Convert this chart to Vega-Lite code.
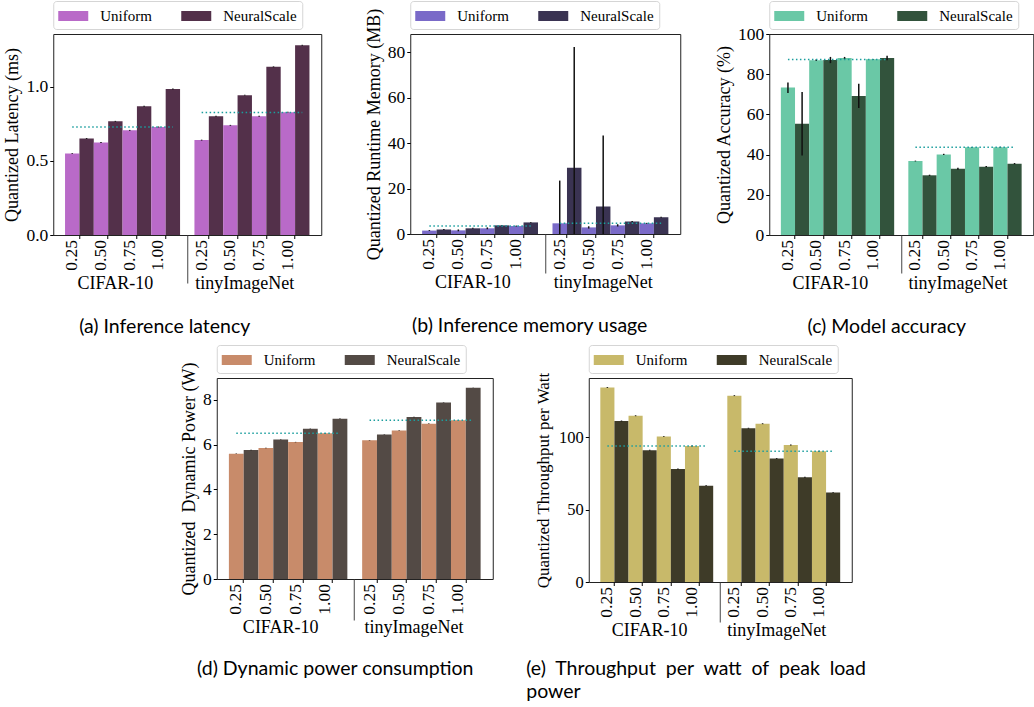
{
"$schema": "https://vega.github.io/schema/vega-lite/v6.json",
"padding": {"left": 3, "top": 0, "right": 0, "bottom": 0},
"background": "white",
"config": {
  "view": {"stroke": "#222", "strokeWidth": 1},
  "font": "Liberation Serif",
  "axis": {"labelFont": "Liberation Serif", "titleFont": "Liberation Serif", "labelColor": "#000", "titleColor": "#000", "titleFontWeight": "normal", "labelFontSize": 17.5, "titleFontSize": 18, "tickColor": "#000", "tickSize": 3.5, "tickWidth": 1, "grid": false, "domain": false, "labelOverlap": false, "labelPadding": 2},
  "axisX": {"orient": "bottom"},
  "axisY": {"labelOverlap": false, "labelSeparation": 0},
  "legend": {"orient": "top", "direction": "horizontal", "title": null, "labelFont": "Liberation Serif", "labelFontSize": 15, "labelColor": "#000", "symbolType": "M-1.5,-0.5H1.5V0.5H-1.5Z", "symbolSize": 400, "symbolStrokeWidth": 0, "symbolOpacity": 1, "symbolOffset": 5, "labelOffset": 17, "columnPadding": 29, "padding": 5, "strokeColor": "#d5d5d5", "fillColor": "#ffffff", "cornerRadius": 3, "offset": 5}
},
"resolve": {"scale": {"x": "independent", "y": "independent", "color": "independent"}, "axis": {"x": "independent", "y": "independent"}, "legend": {"color": "independent"}},
"center": true,
"spacing": 8,
"vconcat": [
{
"spacing": 89,
"bounds": "flush",
"resolve": {"scale": {"x": "independent", "y": "independent", "color": "independent"}, "axis": {"x": "independent", "y": "independent"}, "legend": {"color": "independent"}},
"hconcat": [
{
  "width": 268, "height": 201,
  "data": {"values": [
    {"dataset": "CIFAR-10", "width": "0.25", "method": "Uniform", "value": 0.550, "lo": 0.547, "hi": 0.553},
    {"dataset": "CIFAR-10", "width": "0.25", "method": "NeuralScale", "value": 0.652, "lo": 0.649, "hi": 0.655},
    {"dataset": "CIFAR-10", "width": "0.50", "method": "Uniform", "value": 0.625, "lo": 0.622, "hi": 0.628},
    {"dataset": "CIFAR-10", "width": "0.50", "method": "NeuralScale", "value": 0.768, "lo": 0.765, "hi": 0.771},
    {"dataset": "CIFAR-10", "width": "0.75", "method": "Uniform", "value": 0.707, "lo": 0.704, "hi": 0.710},
    {"dataset": "CIFAR-10", "width": "0.75", "method": "NeuralScale", "value": 0.870, "lo": 0.867, "hi": 0.873},
    {"dataset": "CIFAR-10", "width": "1.00", "method": "Uniform", "value": 0.730, "lo": 0.727, "hi": 0.733},
    {"dataset": "CIFAR-10", "width": "1.00", "method": "NeuralScale", "value": 0.986, "lo": 0.983, "hi": 0.989},
    {"dataset": "tinyImageNet", "width": "0.25", "method": "Uniform", "value": 0.641, "lo": 0.638, "hi": 0.644},
    {"dataset": "tinyImageNet", "width": "0.25", "method": "NeuralScale", "value": 0.802, "lo": 0.799, "hi": 0.805},
    {"dataset": "tinyImageNet", "width": "0.50", "method": "Uniform", "value": 0.741, "lo": 0.738, "hi": 0.744},
    {"dataset": "tinyImageNet", "width": "0.50", "method": "NeuralScale", "value": 0.945, "lo": 0.942, "hi": 0.948},
    {"dataset": "tinyImageNet", "width": "0.75", "method": "Uniform", "value": 0.802, "lo": 0.799, "hi": 0.805},
    {"dataset": "tinyImageNet", "width": "0.75", "method": "NeuralScale", "value": 1.136, "lo": 1.133, "hi": 1.139},
    {"dataset": "tinyImageNet", "width": "1.00", "method": "Uniform", "value": 0.830, "lo": 0.827, "hi": 0.833},
    {"dataset": "tinyImageNet", "width": "1.00", "method": "NeuralScale", "value": 1.282, "lo": 1.279, "hi": 1.285}
  ]},
  "transform": [{"calculate": "datum.dataset + ' ' + datum.width + ' ' + datum.method", "as": "key"}],
  "resolve": {"axis": {"x": "independent"}},
  "layer": [
    {"mark": {"type": "bar"},
     "encoding": {
       "x": {"field": "key", "type": "nominal", "sort": null, "scale": {"domain": ["CIFAR-10 0.25 Uniform", "CIFAR-10 0.25 NeuralScale", "CIFAR-10 0.50 Uniform", "CIFAR-10 0.50 NeuralScale", "CIFAR-10 0.75 Uniform", "CIFAR-10 0.75 NeuralScale", "CIFAR-10 1.00 Uniform", "CIFAR-10 1.00 NeuralScale", "gap", "tinyImageNet 0.25 Uniform", "tinyImageNet 0.25 NeuralScale", "tinyImageNet 0.50 Uniform", "tinyImageNet 0.50 NeuralScale", "tinyImageNet 0.75 Uniform", "tinyImageNet 0.75 NeuralScale", "tinyImageNet 1.00 Uniform", "tinyImageNet 1.00 NeuralScale"], "paddingInner": 0, "paddingOuter": 0.82},
         "axis": {"orient": "bottom", "values": ["CIFAR-10 0.25 Uniform", "CIFAR-10 0.50 Uniform", "CIFAR-10 0.75 Uniform", "CIFAR-10 1.00 Uniform", "tinyImageNet 0.25 Uniform", "tinyImageNet 0.50 Uniform", "tinyImageNet 0.75 Uniform", "tinyImageNet 1.00 Uniform"], "bandPosition": 1, "labelExpr": "split(datum.value, ' ')[1]", "labelAngle": -90, "labelPadding": 1, "title": null}},
       "y": {"field": "value", "type": "quantitative", "title": "Quantized Latency (ms)", "scale": {"domain": [0, 1.358], "nice": false}, "axis": {"values": [0, 0.5, 1.0], "format": ".1f", "titlePadding": 4, "labelOverlap": false}},
       "color": {"field": "method", "type": "nominal", "scale": {"domain": ["Uniform", "NeuralScale"], "range": ["#b96ac8", "#53304a"]}}
     }},
    {"mark": {"type": "rule", "color": "#111", "strokeWidth": 1.5},
     "encoding": {
       "x": {"field": "key", "type": "nominal", "scale": {"domain": ["CIFAR-10 0.25 Uniform", "CIFAR-10 0.25 NeuralScale", "CIFAR-10 0.50 Uniform", "CIFAR-10 0.50 NeuralScale", "CIFAR-10 0.75 Uniform", "CIFAR-10 0.75 NeuralScale", "CIFAR-10 1.00 Uniform", "CIFAR-10 1.00 NeuralScale", "gap", "tinyImageNet 0.25 Uniform", "tinyImageNet 0.25 NeuralScale", "tinyImageNet 0.50 Uniform", "tinyImageNet 0.50 NeuralScale", "tinyImageNet 0.75 Uniform", "tinyImageNet 0.75 NeuralScale", "tinyImageNet 1.00 Uniform", "tinyImageNet 1.00 NeuralScale"], "paddingInner": 0, "paddingOuter": 0.82},
         "axis": {"orient": "bottom", "values": ["gap"], "bandPosition": 0.5, "labels": false, "ticks": true, "tickSize": 48, "tickColor": "#444", "title": null}},
       "y": {"field": "lo", "type": "quantitative", "title": "Quantized Latency (ms)", "scale": {"domain": [0, 1.358], "nice": false}, "axis": {"values": [0, 0.5, 1.0], "format": ".1f", "titlePadding": 4, "labelOverlap": false}},
       "y2": {"field": "hi"}
     }},
    {"data": {"values": [{"dataset": "CIFAR-10", "value": 0.730}, {"dataset": "tinyImageNet", "value": 0.827}]},
     "transform": [{"calculate": "datum.dataset + ' 0.25 Uniform'", "as": "start"}, {"calculate": "datum.dataset + ' 1.00 NeuralScale'", "as": "end"}],
     "mark": {"type": "rule", "color": "#1b9e9e", "strokeDash": [1.5, 2.5], "strokeWidth": 1.5},
     "encoding": {
       "x": {"field": "start", "type": "nominal", "scale": {"domain": ["CIFAR-10 0.25 Uniform", "CIFAR-10 0.25 NeuralScale", "CIFAR-10 0.50 Uniform", "CIFAR-10 0.50 NeuralScale", "CIFAR-10 0.75 Uniform", "CIFAR-10 0.75 NeuralScale", "CIFAR-10 1.00 Uniform", "CIFAR-10 1.00 NeuralScale", "gap", "tinyImageNet 0.25 Uniform", "tinyImageNet 0.25 NeuralScale", "tinyImageNet 0.50 Uniform", "tinyImageNet 0.50 NeuralScale", "tinyImageNet 0.75 Uniform", "tinyImageNet 0.75 NeuralScale", "tinyImageNet 1.00 Uniform", "tinyImageNet 1.00 NeuralScale"], "paddingInner": 0, "paddingOuter": 0.82},
         "axis": {"orient": "bottom", "values": ["CIFAR-10 0.50 NeuralScale", "tinyImageNet 0.50 NeuralScale"], "bandPosition": 1, "labelExpr": "split(datum.value, ' ')[0]", "labelAngle": 0, "ticks": false, "labelPadding": 39, "labelFontSize": 18, "title": "(a) Inference latency", "titleFont": "Lato", "titleFontSize": 19.5, "titlePadding": 25, "titleX": 111, "titleAlign": "center"}},
       "x2": {"field": "end"},
       "y": {"field": "value", "type": "quantitative", "title": "Quantized Latency (ms)", "scale": {"domain": [0, 1.358], "nice": false}, "axis": {"values": [0, 0.5, 1.0], "format": ".1f", "titlePadding": 4, "labelOverlap": false}}
     }}
  ]
},
{
  "width": 270, "height": 200,
  "data": {"values": [
    {"dataset": "CIFAR-10", "width": "0.25", "method": "Uniform", "value": 1.5, "lo": 1.3, "hi": 1.7},
    {"dataset": "CIFAR-10", "width": "0.25", "method": "NeuralScale", "value": 2.0, "lo": 1.8, "hi": 2.2},
    {"dataset": "CIFAR-10", "width": "0.50", "method": "Uniform", "value": 1.6, "lo": 1.2, "hi": 2.0},
    {"dataset": "CIFAR-10", "width": "0.50", "method": "NeuralScale", "value": 2.5, "lo": 2.3, "hi": 2.7},
    {"dataset": "CIFAR-10", "width": "0.75", "method": "Uniform", "value": 2.5, "lo": 2.1, "hi": 2.9},
    {"dataset": "CIFAR-10", "width": "0.75", "method": "NeuralScale", "value": 3.8, "lo": 3.6, "hi": 4.0},
    {"dataset": "CIFAR-10", "width": "1.00", "method": "Uniform", "value": 3.5, "lo": 3.3, "hi": 3.7},
    {"dataset": "CIFAR-10", "width": "1.00", "method": "NeuralScale", "value": 5.1, "lo": 4.9, "hi": 5.3},
    {"dataset": "tinyImageNet", "width": "0.25", "method": "Uniform", "value": 4.7, "lo": 0, "hi": 23.5},
    {"dataset": "tinyImageNet", "width": "0.25", "method": "NeuralScale", "value": 29.1, "lo": 0, "hi": 82.3},
    {"dataset": "tinyImageNet", "width": "0.50", "method": "Uniform", "value": 2.9, "lo": 2.4, "hi": 3.4},
    {"dataset": "tinyImageNet", "width": "0.50", "method": "NeuralScale", "value": 12.1, "lo": 0, "hi": 43.3},
    {"dataset": "tinyImageNet", "width": "0.75", "method": "Uniform", "value": 3.8, "lo": 3.3, "hi": 4.3},
    {"dataset": "tinyImageNet", "width": "0.75", "method": "NeuralScale", "value": 5.5, "lo": 5.3, "hi": 5.7},
    {"dataset": "tinyImageNet", "width": "1.00", "method": "Uniform", "value": 4.7, "lo": 4.5, "hi": 4.9},
    {"dataset": "tinyImageNet", "width": "1.00", "method": "NeuralScale", "value": 7.4, "lo": 7.2, "hi": 7.6}
  ]},
  "transform": [{"calculate": "datum.dataset + ' ' + datum.width + ' ' + datum.method", "as": "key"}],
  "resolve": {"axis": {"x": "independent"}},
  "layer": [
    {"mark": {"type": "bar"},
     "encoding": {
       "x": {"field": "key", "type": "nominal", "sort": null, "scale": {"domain": ["CIFAR-10 0.25 Uniform", "CIFAR-10 0.25 NeuralScale", "CIFAR-10 0.50 Uniform", "CIFAR-10 0.50 NeuralScale", "CIFAR-10 0.75 Uniform", "CIFAR-10 0.75 NeuralScale", "CIFAR-10 1.00 Uniform", "CIFAR-10 1.00 NeuralScale", "gap", "tinyImageNet 0.25 Uniform", "tinyImageNet 0.25 NeuralScale", "tinyImageNet 0.50 Uniform", "tinyImageNet 0.50 NeuralScale", "tinyImageNet 0.75 Uniform", "tinyImageNet 0.75 NeuralScale", "tinyImageNet 1.00 Uniform", "tinyImageNet 1.00 NeuralScale"], "paddingInner": 0, "paddingOuter": 0.82},
         "axis": {"orient": "bottom", "values": ["CIFAR-10 0.25 Uniform", "CIFAR-10 0.50 Uniform", "CIFAR-10 0.75 Uniform", "CIFAR-10 1.00 Uniform", "tinyImageNet 0.25 Uniform", "tinyImageNet 0.50 Uniform", "tinyImageNet 0.75 Uniform", "tinyImageNet 1.00 Uniform"], "bandPosition": 1, "labelExpr": "split(datum.value, ' ')[1]", "labelAngle": -90, "labelPadding": 1, "title": null}},
       "y": {"field": "value", "type": "quantitative", "title": "Quantized Runtime Memory (MB)", "scale": {"domain": [0, 88], "nice": false}, "axis": {"values": [0, 20, 40, 60, 80], "titlePadding": 4, "labelOverlap": false}},
       "color": {"field": "method", "type": "nominal", "scale": {"domain": ["Uniform", "NeuralScale"], "range": ["#7a6ac8", "#3a3352"]}}
     }},
    {"mark": {"type": "rule", "color": "#111", "strokeWidth": 1.5},
     "encoding": {
       "x": {"field": "key", "type": "nominal", "scale": {"domain": ["CIFAR-10 0.25 Uniform", "CIFAR-10 0.25 NeuralScale", "CIFAR-10 0.50 Uniform", "CIFAR-10 0.50 NeuralScale", "CIFAR-10 0.75 Uniform", "CIFAR-10 0.75 NeuralScale", "CIFAR-10 1.00 Uniform", "CIFAR-10 1.00 NeuralScale", "gap", "tinyImageNet 0.25 Uniform", "tinyImageNet 0.25 NeuralScale", "tinyImageNet 0.50 Uniform", "tinyImageNet 0.50 NeuralScale", "tinyImageNet 0.75 Uniform", "tinyImageNet 0.75 NeuralScale", "tinyImageNet 1.00 Uniform", "tinyImageNet 1.00 NeuralScale"], "paddingInner": 0, "paddingOuter": 0.82},
         "axis": {"orient": "bottom", "values": ["gap"], "bandPosition": 0.5, "labels": false, "ticks": true, "tickSize": 39, "tickColor": "#444", "title": null}},
       "y": {"field": "lo", "type": "quantitative", "title": "Quantized Runtime Memory (MB)", "scale": {"domain": [0, 88], "nice": false}, "axis": {"values": [0, 20, 40, 60, 80], "titlePadding": 4, "labelOverlap": false}},
       "y2": {"field": "hi"}
     }},
    {"data": {"values": [{"dataset": "CIFAR-10", "value": 3.5}, {"dataset": "tinyImageNet", "value": 4.7}]},
     "transform": [{"calculate": "datum.dataset + ' 0.25 Uniform'", "as": "start"}, {"calculate": "datum.dataset + ' 1.00 NeuralScale'", "as": "end"}],
     "mark": {"type": "rule", "color": "#1b9e9e", "strokeDash": [1.5, 2.5], "strokeWidth": 1.5},
     "encoding": {
       "x": {"field": "start", "type": "nominal", "scale": {"domain": ["CIFAR-10 0.25 Uniform", "CIFAR-10 0.25 NeuralScale", "CIFAR-10 0.50 Uniform", "CIFAR-10 0.50 NeuralScale", "CIFAR-10 0.75 Uniform", "CIFAR-10 0.75 NeuralScale", "CIFAR-10 1.00 Uniform", "CIFAR-10 1.00 NeuralScale", "gap", "tinyImageNet 0.25 Uniform", "tinyImageNet 0.25 NeuralScale", "tinyImageNet 0.50 Uniform", "tinyImageNet 0.50 NeuralScale", "tinyImageNet 0.75 Uniform", "tinyImageNet 0.75 NeuralScale", "tinyImageNet 1.00 Uniform", "tinyImageNet 1.00 NeuralScale"], "paddingInner": 0, "paddingOuter": 0.82},
         "axis": {"orient": "bottom", "values": ["CIFAR-10 0.50 NeuralScale", "tinyImageNet 0.50 NeuralScale"], "bandPosition": 1, "labelExpr": "split(datum.value, ' ')[0]", "labelAngle": 0, "ticks": false, "labelPadding": 39, "labelFontSize": 18, "title": "(b) Inference memory usage", "titleFont": "Lato", "titleFontSize": 19.5, "titlePadding": 25, "titleX": 119, "titleAlign": "center"}},
       "x2": {"field": "end"},
       "y": {"field": "value", "type": "quantitative", "title": "Quantized Runtime Memory (MB)", "scale": {"domain": [0, 88], "nice": false}, "axis": {"values": [0, 20, 40, 60, 80], "titlePadding": 4, "labelOverlap": false}}
     }}
  ]
},
{
  "width": 264, "height": 201,
  "data": {"values": [
    {"dataset": "CIFAR-10", "width": "0.25", "method": "Uniform", "value": 73.4, "lo": 70.7, "hi": 75.9},
    {"dataset": "CIFAR-10", "width": "0.25", "method": "NeuralScale", "value": 55.4, "lo": 39.5, "hi": 71.2},
    {"dataset": "CIFAR-10", "width": "0.50", "method": "Uniform", "value": 87.0, "lo": 86.6, "hi": 87.4},
    {"dataset": "CIFAR-10", "width": "0.50", "method": "NeuralScale", "value": 87.1, "lo": 85.5, "hi": 88.6},
    {"dataset": "CIFAR-10", "width": "0.75", "method": "Uniform", "value": 88.1, "lo": 87.6, "hi": 88.6},
    {"dataset": "CIFAR-10", "width": "0.75", "method": "NeuralScale", "value": 69.2, "lo": 63.2, "hi": 75.2},
    {"dataset": "CIFAR-10", "width": "1.00", "method": "Uniform", "value": 87.4, "lo": 87.2, "hi": 87.6},
    {"dataset": "CIFAR-10", "width": "1.00", "method": "NeuralScale", "value": 88.1, "lo": 87.0, "hi": 89.2},
    {"dataset": "tinyImageNet", "width": "0.25", "method": "Uniform", "value": 36.8, "lo": 36.6, "hi": 37.0},
    {"dataset": "tinyImageNet", "width": "0.25", "method": "NeuralScale", "value": 29.7, "lo": 29.4, "hi": 30.0},
    {"dataset": "tinyImageNet", "width": "0.50", "method": "Uniform", "value": 40.1, "lo": 39.8, "hi": 40.4},
    {"dataset": "tinyImageNet", "width": "0.50", "method": "NeuralScale", "value": 33.0, "lo": 32.5, "hi": 33.5},
    {"dataset": "tinyImageNet", "width": "0.75", "method": "Uniform", "value": 43.6, "lo": 43.4, "hi": 43.8},
    {"dataset": "tinyImageNet", "width": "0.75", "method": "NeuralScale", "value": 34.0, "lo": 33.7, "hi": 34.3},
    {"dataset": "tinyImageNet", "width": "1.00", "method": "Uniform", "value": 43.6, "lo": 43.3, "hi": 43.9},
    {"dataset": "tinyImageNet", "width": "1.00", "method": "NeuralScale", "value": 35.5, "lo": 35.2, "hi": 35.8}
  ]},
  "transform": [{"calculate": "datum.dataset + ' ' + datum.width + ' ' + datum.method", "as": "key"}],
  "resolve": {"axis": {"x": "independent"}},
  "layer": [
    {"mark": {"type": "bar"},
     "encoding": {
       "x": {"field": "key", "type": "nominal", "sort": null, "scale": {"domain": ["CIFAR-10 0.25 Uniform", "CIFAR-10 0.25 NeuralScale", "CIFAR-10 0.50 Uniform", "CIFAR-10 0.50 NeuralScale", "CIFAR-10 0.75 Uniform", "CIFAR-10 0.75 NeuralScale", "CIFAR-10 1.00 Uniform", "CIFAR-10 1.00 NeuralScale", "gap", "tinyImageNet 0.25 Uniform", "tinyImageNet 0.25 NeuralScale", "tinyImageNet 0.50 Uniform", "tinyImageNet 0.50 NeuralScale", "tinyImageNet 0.75 Uniform", "tinyImageNet 0.75 NeuralScale", "tinyImageNet 1.00 Uniform", "tinyImageNet 1.00 NeuralScale"], "paddingInner": 0, "paddingOuter": 0.82},
         "axis": {"orient": "bottom", "values": ["CIFAR-10 0.25 Uniform", "CIFAR-10 0.50 Uniform", "CIFAR-10 0.75 Uniform", "CIFAR-10 1.00 Uniform", "tinyImageNet 0.25 Uniform", "tinyImageNet 0.50 Uniform", "tinyImageNet 0.75 Uniform", "tinyImageNet 1.00 Uniform"], "bandPosition": 1, "labelExpr": "split(datum.value, ' ')[1]", "labelAngle": -90, "labelPadding": 1, "title": null}},
       "y": {"field": "value", "type": "quantitative", "title": "Quantized Accuracy (%)", "scale": {"domain": [0, 100], "nice": false}, "axis": {"values": [0, 20, 40, 60, 80, 100], "titlePadding": 4, "labelOverlap": false, "labelSeparation": 0}},
       "color": {"field": "method", "type": "nominal", "scale": {"domain": ["Uniform", "NeuralScale"], "range": ["#6ac8a6", "#32533c"]}}
     }},
    {"mark": {"type": "rule", "color": "#111", "strokeWidth": 1.5},
     "encoding": {
       "x": {"field": "key", "type": "nominal", "scale": {"domain": ["CIFAR-10 0.25 Uniform", "CIFAR-10 0.25 NeuralScale", "CIFAR-10 0.50 Uniform", "CIFAR-10 0.50 NeuralScale", "CIFAR-10 0.75 Uniform", "CIFAR-10 0.75 NeuralScale", "CIFAR-10 1.00 Uniform", "CIFAR-10 1.00 NeuralScale", "gap", "tinyImageNet 0.25 Uniform", "tinyImageNet 0.25 NeuralScale", "tinyImageNet 0.50 Uniform", "tinyImageNet 0.50 NeuralScale", "tinyImageNet 0.75 Uniform", "tinyImageNet 0.75 NeuralScale", "tinyImageNet 1.00 Uniform", "tinyImageNet 1.00 NeuralScale"], "paddingInner": 0, "paddingOuter": 0.82},
         "axis": {"orient": "bottom", "values": ["gap"], "bandPosition": 0.5, "labels": false, "ticks": true, "tickSize": 38, "tickColor": "#444", "title": null}},
       "y": {"field": "lo", "type": "quantitative", "title": "Quantized Accuracy (%)", "scale": {"domain": [0, 100], "nice": false}, "axis": {"values": [0, 20, 40, 60, 80, 100], "titlePadding": 4, "labelOverlap": false, "labelSeparation": 0}},
       "y2": {"field": "hi"}
     }},
    {"data": {"values": [{"dataset": "CIFAR-10", "value": 87.3}, {"dataset": "tinyImageNet", "value": 43.6}]},
     "transform": [{"calculate": "datum.dataset + ' 0.25 Uniform'", "as": "start"}, {"calculate": "datum.dataset + ' 1.00 NeuralScale'", "as": "end"}],
     "mark": {"type": "rule", "color": "#1b9e9e", "strokeDash": [1.5, 2.5], "strokeWidth": 1.5},
     "encoding": {
       "x": {"field": "start", "type": "nominal", "scale": {"domain": ["CIFAR-10 0.25 Uniform", "CIFAR-10 0.25 NeuralScale", "CIFAR-10 0.50 Uniform", "CIFAR-10 0.50 NeuralScale", "CIFAR-10 0.75 Uniform", "CIFAR-10 0.75 NeuralScale", "CIFAR-10 1.00 Uniform", "CIFAR-10 1.00 NeuralScale", "gap", "tinyImageNet 0.25 Uniform", "tinyImageNet 0.25 NeuralScale", "tinyImageNet 0.50 Uniform", "tinyImageNet 0.50 NeuralScale", "tinyImageNet 0.75 Uniform", "tinyImageNet 0.75 NeuralScale", "tinyImageNet 1.00 Uniform", "tinyImageNet 1.00 NeuralScale"], "paddingInner": 0, "paddingOuter": 0.82},
         "axis": {"orient": "bottom", "values": ["CIFAR-10 0.50 NeuralScale", "tinyImageNet 0.50 NeuralScale"], "bandPosition": 1, "labelExpr": "split(datum.value, ' ')[0]", "labelAngle": 0, "ticks": false, "labelPadding": 39, "labelFontSize": 18, "title": "(c) Model accuracy", "titleFont": "Lato", "titleFontSize": 19.5, "titlePadding": 25, "titleX": 117, "titleAlign": "center"}},
       "x2": {"field": "end"},
       "y": {"field": "value", "type": "quantitative", "title": "Quantized Accuracy (%)", "scale": {"domain": [0, 100], "nice": false}, "axis": {"values": [0, 20, 40, 60, 80, 100], "titlePadding": 4, "labelOverlap": false, "labelSeparation": 0}}
     }}
  ]
}
]
},
{
"spacing": 96,
"bounds": "flush",
"resolve": {"scale": {"x": "independent", "y": "independent", "color": "independent"}, "axis": {"x": "independent", "y": "independent"}, "legend": {"color": "independent"}},
"hconcat": [
{
  "width": 276, "height": 201,
  "data": {"values": [
    {"dataset": "CIFAR-10", "width": "0.25", "method": "Uniform", "value": 5.59, "lo": 5.58, "hi": 5.60},
    {"dataset": "CIFAR-10", "width": "0.25", "method": "NeuralScale", "value": 5.76, "lo": 5.75, "hi": 5.77},
    {"dataset": "CIFAR-10", "width": "0.50", "method": "Uniform", "value": 5.85, "lo": 5.84, "hi": 5.86},
    {"dataset": "CIFAR-10", "width": "0.50", "method": "NeuralScale", "value": 6.22, "lo": 6.21, "hi": 6.23},
    {"dataset": "CIFAR-10", "width": "0.75", "method": "Uniform", "value": 6.11, "lo": 6.10, "hi": 6.12},
    {"dataset": "CIFAR-10", "width": "0.75", "method": "NeuralScale", "value": 6.70, "lo": 6.69, "hi": 6.71},
    {"dataset": "CIFAR-10", "width": "1.00", "method": "Uniform", "value": 6.50, "lo": 6.49, "hi": 6.51},
    {"dataset": "CIFAR-10", "width": "1.00", "method": "NeuralScale", "value": 7.15, "lo": 7.14, "hi": 7.16},
    {"dataset": "tinyImageNet", "width": "0.25", "method": "Uniform", "value": 6.19, "lo": 6.18, "hi": 6.20},
    {"dataset": "tinyImageNet", "width": "0.25", "method": "NeuralScale", "value": 6.45, "lo": 6.44, "hi": 6.46},
    {"dataset": "tinyImageNet", "width": "0.50", "method": "Uniform", "value": 6.63, "lo": 6.62, "hi": 6.64},
    {"dataset": "tinyImageNet", "width": "0.50", "method": "NeuralScale", "value": 7.23, "lo": 7.22, "hi": 7.24},
    {"dataset": "tinyImageNet", "width": "0.75", "method": "Uniform", "value": 6.93, "lo": 6.92, "hi": 6.94},
    {"dataset": "tinyImageNet", "width": "0.75", "method": "NeuralScale", "value": 7.88, "lo": 7.87, "hi": 7.89},
    {"dataset": "tinyImageNet", "width": "1.00", "method": "Uniform", "value": 7.08, "lo": 7.07, "hi": 7.09},
    {"dataset": "tinyImageNet", "width": "1.00", "method": "NeuralScale", "value": 8.53, "lo": 8.52, "hi": 8.54}
  ]},
  "transform": [{"calculate": "datum.dataset + ' ' + datum.width + ' ' + datum.method", "as": "key"}],
  "resolve": {"axis": {"x": "independent"}},
  "layer": [
    {"mark": {"type": "bar"},
     "encoding": {
       "x": {"field": "key", "type": "nominal", "sort": null, "scale": {"domain": ["CIFAR-10 0.25 Uniform", "CIFAR-10 0.25 NeuralScale", "CIFAR-10 0.50 Uniform", "CIFAR-10 0.50 NeuralScale", "CIFAR-10 0.75 Uniform", "CIFAR-10 0.75 NeuralScale", "CIFAR-10 1.00 Uniform", "CIFAR-10 1.00 NeuralScale", "gap", "tinyImageNet 0.25 Uniform", "tinyImageNet 0.25 NeuralScale", "tinyImageNet 0.50 Uniform", "tinyImageNet 0.50 NeuralScale", "tinyImageNet 0.75 Uniform", "tinyImageNet 0.75 NeuralScale", "tinyImageNet 1.00 Uniform", "tinyImageNet 1.00 NeuralScale"], "paddingInner": 0, "paddingOuter": 0.82},
         "axis": {"orient": "bottom", "values": ["CIFAR-10 0.25 Uniform", "CIFAR-10 0.50 Uniform", "CIFAR-10 0.75 Uniform", "CIFAR-10 1.00 Uniform", "tinyImageNet 0.25 Uniform", "tinyImageNet 0.50 Uniform", "tinyImageNet 0.75 Uniform", "tinyImageNet 1.00 Uniform"], "bandPosition": 1, "labelExpr": "split(datum.value, ' ')[1]", "labelAngle": -90, "labelPadding": 1, "title": null}},
       "y": {"field": "value", "type": "quantitative", "title": "Quantized\u00a0 Dynamic Power (W)", "scale": {"domain": [0, 8.97], "nice": false}, "axis": {"values": [0, 2, 4, 6, 8], "titlePadding": 4, "labelOverlap": false}},
       "color": {"field": "method", "type": "nominal", "scale": {"domain": ["Uniform", "NeuralScale"], "range": ["#c88b6a", "#534a45"]}}
     }},
    {"mark": {"type": "rule", "color": "#111", "strokeWidth": 1.5},
     "encoding": {
       "x": {"field": "key", "type": "nominal", "scale": {"domain": ["CIFAR-10 0.25 Uniform", "CIFAR-10 0.25 NeuralScale", "CIFAR-10 0.50 Uniform", "CIFAR-10 0.50 NeuralScale", "CIFAR-10 0.75 Uniform", "CIFAR-10 0.75 NeuralScale", "CIFAR-10 1.00 Uniform", "CIFAR-10 1.00 NeuralScale", "gap", "tinyImageNet 0.25 Uniform", "tinyImageNet 0.25 NeuralScale", "tinyImageNet 0.50 Uniform", "tinyImageNet 0.50 NeuralScale", "tinyImageNet 0.75 Uniform", "tinyImageNet 0.75 NeuralScale", "tinyImageNet 1.00 Uniform", "tinyImageNet 1.00 NeuralScale"], "paddingInner": 0, "paddingOuter": 0.82},
         "axis": {"orient": "bottom", "values": ["gap"], "bandPosition": 0.5, "labels": false, "ticks": true, "tickSize": 41, "tickColor": "#444", "title": null}},
       "y": {"field": "lo", "type": "quantitative", "title": "Quantized\u00a0 Dynamic Power (W)", "scale": {"domain": [0, 8.97], "nice": false}, "axis": {"values": [0, 2, 4, 6, 8], "titlePadding": 4, "labelOverlap": false}},
       "y2": {"field": "hi"}
     }},
    {"data": {"values": [{"dataset": "CIFAR-10", "value": 6.50}, {"dataset": "tinyImageNet", "value": 7.08}]},
     "transform": [{"calculate": "datum.dataset + ' 0.25 Uniform'", "as": "start"}, {"calculate": "datum.dataset + ' 1.00 NeuralScale'", "as": "end"}],
     "mark": {"type": "rule", "color": "#1b9e9e", "strokeDash": [1.5, 2.5], "strokeWidth": 1.5},
     "encoding": {
       "x": {"field": "start", "type": "nominal", "scale": {"domain": ["CIFAR-10 0.25 Uniform", "CIFAR-10 0.25 NeuralScale", "CIFAR-10 0.50 Uniform", "CIFAR-10 0.50 NeuralScale", "CIFAR-10 0.75 Uniform", "CIFAR-10 0.75 NeuralScale", "CIFAR-10 1.00 Uniform", "CIFAR-10 1.00 NeuralScale", "gap", "tinyImageNet 0.25 Uniform", "tinyImageNet 0.25 NeuralScale", "tinyImageNet 0.50 Uniform", "tinyImageNet 0.50 NeuralScale", "tinyImageNet 0.75 Uniform", "tinyImageNet 0.75 NeuralScale", "tinyImageNet 1.00 Uniform", "tinyImageNet 1.00 NeuralScale"], "paddingInner": 0, "paddingOuter": 0.82},
         "axis": {"orient": "bottom", "values": ["CIFAR-10 0.50 NeuralScale", "tinyImageNet 0.50 NeuralScale"], "bandPosition": 1, "labelExpr": "split(datum.value, ' ')[0]", "labelAngle": 0, "ticks": false, "labelPadding": 39, "labelFontSize": 18, "title": "(d) Dynamic power consumption", "titleFont": "Lato", "titleFontSize": 19.5, "titlePadding": 23, "titleX": 118, "titleAlign": "center"}},
       "x2": {"field": "end"},
       "y": {"field": "value", "type": "quantitative", "title": "Quantized\u00a0 Dynamic Power (W)", "scale": {"domain": [0, 8.97], "nice": false}, "axis": {"values": [0, 2, 4, 6, 8], "titlePadding": 4, "labelOverlap": false}}
     }}
  ]
},
{
  "width": 263, "height": 204,
  "data": {"values": [
    {"dataset": "CIFAR-10", "width": "0.25", "method": "Uniform", "value": 134.4, "lo": 134.1, "hi": 134.7},
    {"dataset": "CIFAR-10", "width": "0.25", "method": "NeuralScale", "value": 111.3, "lo": 111.0, "hi": 111.6},
    {"dataset": "CIFAR-10", "width": "0.50", "method": "Uniform", "value": 114.9, "lo": 114.6, "hi": 115.2},
    {"dataset": "CIFAR-10", "width": "0.50", "method": "NeuralScale", "value": 91.1, "lo": 90.8, "hi": 91.4},
    {"dataset": "CIFAR-10", "width": "0.75", "method": "Uniform", "value": 100.5, "lo": 100.2, "hi": 100.8},
    {"dataset": "CIFAR-10", "width": "0.75", "method": "NeuralScale", "value": 78.1, "lo": 77.8, "hi": 78.4},
    {"dataset": "CIFAR-10", "width": "1.00", "method": "Uniform", "value": 94.0, "lo": 93.7, "hi": 94.3},
    {"dataset": "CIFAR-10", "width": "1.00", "method": "NeuralScale", "value": 66.6, "lo": 66.3, "hi": 66.9},
    {"dataset": "tinyImageNet", "width": "0.25", "method": "Uniform", "value": 128.8, "lo": 128.5, "hi": 129.1},
    {"dataset": "tinyImageNet", "width": "0.25", "method": "NeuralScale", "value": 106.3, "lo": 106.0, "hi": 106.6},
    {"dataset": "tinyImageNet", "width": "0.50", "method": "Uniform", "value": 109.4, "lo": 109.1, "hi": 109.7},
    {"dataset": "tinyImageNet", "width": "0.50", "method": "NeuralScale", "value": 85.3, "lo": 85.0, "hi": 85.6},
    {"dataset": "tinyImageNet", "width": "0.75", "method": "Uniform", "value": 94.7, "lo": 94.4, "hi": 95.0},
    {"dataset": "tinyImageNet", "width": "0.75", "method": "NeuralScale", "value": 72.4, "lo": 72.1, "hi": 72.7},
    {"dataset": "tinyImageNet", "width": "1.00", "method": "Uniform", "value": 90.4, "lo": 90.1, "hi": 90.7},
    {"dataset": "tinyImageNet", "width": "1.00", "method": "NeuralScale", "value": 61.8, "lo": 61.5, "hi": 62.1}
  ]},
  "transform": [{"calculate": "datum.dataset + ' ' + datum.width + ' ' + datum.method", "as": "key"}],
  "resolve": {"axis": {"x": "independent", "y": "independent"}},
  "layer": [
    {"mark": {"type": "bar"},
     "encoding": {
       "x": {"field": "key", "type": "nominal", "sort": null, "scale": {"domain": ["CIFAR-10 0.25 Uniform", "CIFAR-10 0.25 NeuralScale", "CIFAR-10 0.50 Uniform", "CIFAR-10 0.50 NeuralScale", "CIFAR-10 0.75 Uniform", "CIFAR-10 0.75 NeuralScale", "CIFAR-10 1.00 Uniform", "CIFAR-10 1.00 NeuralScale", "gap", "tinyImageNet 0.25 Uniform", "tinyImageNet 0.25 NeuralScale", "tinyImageNet 0.50 Uniform", "tinyImageNet 0.50 NeuralScale", "tinyImageNet 0.75 Uniform", "tinyImageNet 0.75 NeuralScale", "tinyImageNet 1.00 Uniform", "tinyImageNet 1.00 NeuralScale"], "paddingInner": 0, "paddingOuter": 0.82},
         "axis": {"orient": "bottom", "values": ["CIFAR-10 0.25 Uniform", "CIFAR-10 0.50 Uniform", "CIFAR-10 0.75 Uniform", "CIFAR-10 1.00 Uniform", "tinyImageNet 0.25 Uniform", "tinyImageNet 0.50 Uniform", "tinyImageNet 0.75 Uniform", "tinyImageNet 1.00 Uniform"], "bandPosition": 1, "labelExpr": "split(datum.value, ' ')[1]", "labelAngle": -90, "labelPadding": 1, "title": null}},
       "y": {"field": "value", "type": "quantitative", "title": "Quantized Throughput per Watt", "scale": {"domain": [0, 141], "nice": false}, "axis": {"orient": "left", "values": [0, 50, 100], "titlePadding": 6, "labelFontSize": 16.5, "titleFontSize": 17, "labelOverlap": false}},
       "color": {"field": "method", "type": "nominal", "scale": {"domain": ["Uniform", "NeuralScale"], "range": ["#c8b96a", "#3e3b28"]}}
     }},
    {"mark": {"type": "rule", "color": "#111", "strokeWidth": 1.5},
     "encoding": {
       "x": {"field": "key", "type": "nominal", "scale": {"domain": ["CIFAR-10 0.25 Uniform", "CIFAR-10 0.25 NeuralScale", "CIFAR-10 0.50 Uniform", "CIFAR-10 0.50 NeuralScale", "CIFAR-10 0.75 Uniform", "CIFAR-10 0.75 NeuralScale", "CIFAR-10 1.00 Uniform", "CIFAR-10 1.00 NeuralScale", "gap", "tinyImageNet 0.25 Uniform", "tinyImageNet 0.25 NeuralScale", "tinyImageNet 0.50 Uniform", "tinyImageNet 0.50 NeuralScale", "tinyImageNet 0.75 Uniform", "tinyImageNet 0.75 NeuralScale", "tinyImageNet 1.00 Uniform", "tinyImageNet 1.00 NeuralScale"], "paddingInner": 0, "paddingOuter": 0.82},
         "axis": {"orient": "bottom", "values": ["gap"], "bandPosition": 0.5, "labels": false, "ticks": true, "tickSize": 40, "tickColor": "#444", "title": null}},
       "y": {"field": "lo", "type": "quantitative", "scale": {"domain": [0, 141], "nice": false}, "axis": {"orient": "right", "values": [0, 50, 100], "labels": false, "ticks": false, "domain": true, "domainOpacity": 0, "offset": 18, "title": null}},
       "y2": {"field": "hi"}
     }},
    {"data": {"values": [{"dataset": "CIFAR-10", "value": 94.0}, {"dataset": "tinyImageNet", "value": 90.4}]},
     "transform": [{"calculate": "datum.dataset + ' 0.25 Uniform'", "as": "start"}, {"calculate": "datum.dataset + ' 1.00 NeuralScale'", "as": "end"}],
     "mark": {"type": "rule", "color": "#1b9e9e", "strokeDash": [1.5, 2.5], "strokeWidth": 1.5},
     "encoding": {
       "x": {"field": "start", "type": "nominal", "scale": {"domain": ["CIFAR-10 0.25 Uniform", "CIFAR-10 0.25 NeuralScale", "CIFAR-10 0.50 Uniform", "CIFAR-10 0.50 NeuralScale", "CIFAR-10 0.75 Uniform", "CIFAR-10 0.75 NeuralScale", "CIFAR-10 1.00 Uniform", "CIFAR-10 1.00 NeuralScale", "gap", "tinyImageNet 0.25 Uniform", "tinyImageNet 0.25 NeuralScale", "tinyImageNet 0.50 Uniform", "tinyImageNet 0.50 NeuralScale", "tinyImageNet 0.75 Uniform", "tinyImageNet 0.75 NeuralScale", "tinyImageNet 1.00 Uniform", "tinyImageNet 1.00 NeuralScale"], "paddingInner": 0, "paddingOuter": 0.82},
         "axis": {"orient": "bottom", "values": ["CIFAR-10 0.50 NeuralScale", "tinyImageNet 0.50 NeuralScale"], "bandPosition": 1, "labelExpr": "split(datum.value, ' ')[0]", "labelAngle": 0, "ticks": false, "labelPadding": 39, "labelFontSize": 18, "title": ["(e)\u2009\u2009 Throughput\u2009\u2009 per\u2009\u2009 watt\u2009\u2009 of\u2009\u2009 peak\u2009\u2009 load", "power"], "titleFont": "Lato", "titleFontSize": 19.5, "titlePadding": 20, "titleX": -63, "titleAlign": "left", "titleLineHeight": 23}},
       "x2": {"field": "end"},
       "y": {"field": "value", "type": "quantitative", "scale": {"domain": [0, 141], "nice": false}, "axis": null}
     }}
  ]
}
]
}
]
}
